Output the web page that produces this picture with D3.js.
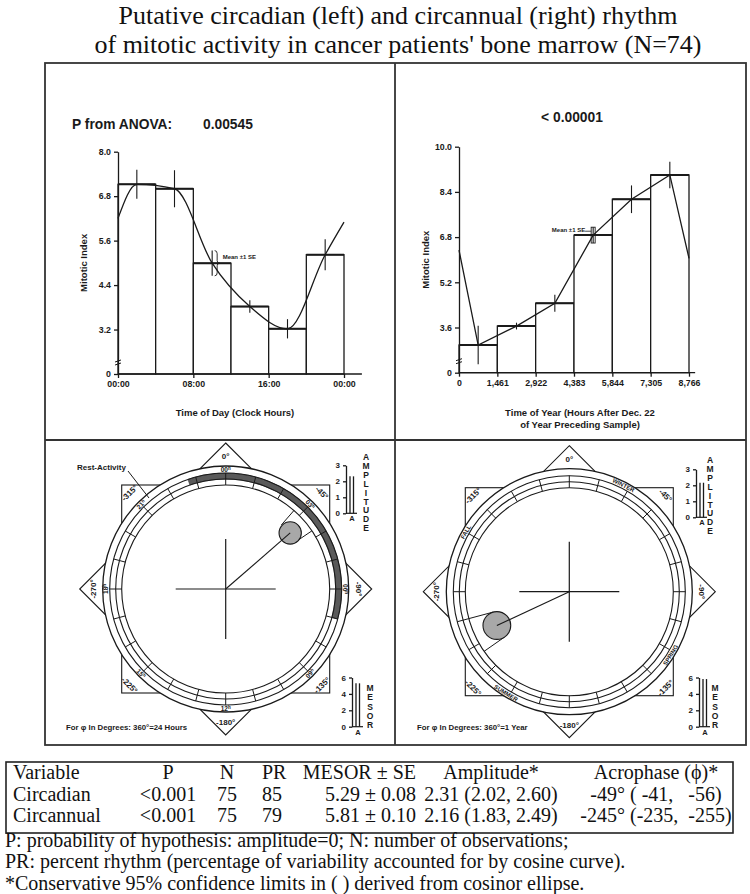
<!DOCTYPE html>
<html><head><meta charset="utf-8">
<script src="https://cdn.jsdelivr.net/npm/d3@7"></script>
<style>
body{margin:0;background:#fff;}
svg{display:block;}
text{white-space:pre;}
</style></head><body>
<svg id="c" width="750" height="894"></svg>
<script>
// ---------------- DATA ----------------
const titleLines = ["Putative circadian (left) and circannual (right) rhythm",
  "of mitotic activity in cancer patients' bone marrow (N=74)"];

// Circadian histogram (top left)
const dayBinStart = [0, 4, 8, 12, 16, 20];
const dayBinEnd   = [4, 8, 12, 16, 20, 24];
const dayMean     = [7.12, 7.00, 4.99, 3.82, 3.22, 5.22];
const daySE       = [0.39, 0.50, 0.34, 0.17, 0.26, 0.42];
const dayPointX   = [2, 6, 10, 14, 18, 22];
const dayCurveX   = [0, 2, 6, 10, 14, 18, 22, 24];
const dayCurveY   = [6.20, 7.12, 7.00, 4.99, 3.82, 3.22, 5.22, 6.10];
const dayXTicks   = [0, 8, 16, 24];
const dayXTickLabels = ["00:00", "08:00", "16:00", "00:00"];
const dayYTicks   = [2, 3.2, 4.4, 5.6, 6.8, 8.0];
const dayYTickLabels = ["0", "3.2", "4.4", "5.6", "6.8", "8.0"];

// Circannual histogram (top right)
const yearBinStart = [0, 1461, 2922, 4383, 5844, 7305];
const yearBinEnd   = [1461, 2922, 4383, 5844, 7305, 8766];
const yearMean     = [2.98, 3.65, 4.46, 6.87, 8.14, 9.00];
const yearSE       = [0.68, 0.12, 0.30, 0.28, 0.49, 0.47];
const yearPointX   = [730.5, 2191.5, 3652.5, 5113.5, 6574.5, 8035.5];
const yearCurveX   = [0, 730.5, 2191.5, 3652.5, 5113.5, 6574.5, 8035.5, 8766];
const yearCurveY   = [6.34, 2.98, 3.65, 4.46, 6.87, 8.14, 9.00, 6.05];
const yearXTicks   = [0, 1461, 2922, 4383, 5844, 7305, 8766];
const yearYTicks   = [2, 3.6, 5.2, 6.8, 8.4, 10.0];
const yearYTickLabels = ["0", "3.6", "5.2", "6.8", "8.4", "10.0"];

// Cosinor table
const tableHeaders = ["Variable", "P", "N", "PR", "MESOR \u00b1 SE", "Amplitude*", "Acrophase (\u03d5)*"];
const rowNames   = ["Circadian", "Circannual"];
const pValues    = ["<0.001", "<0.001"];
const nValues    = [75, 75];
const prValues   = [85, 79];
const mesor      = [5.29, 5.81];
const mesorSE    = [0.08, 0.10];
const amplitude  = [2.31, 2.16];
const ampLow     = [2.02, 1.83];
const ampHigh    = [2.60, 2.49];
const acrophase  = [-49, -245];
const acroLow    = [-41, -235];
const acroHigh   = [-56, -255];
const footnotes  = ["P: probability of hypothesis: amplitude=0; N: number of observations;",
  "PR: percent rhythm (percentage of variability accounted for by cosine curve).",
  "*Conservative 95% confidence limits in ( ) derived from cosinor ellipse."];

// Polar plots
const compassAngles = [0, 45, 90, 135, 180, 225, 270, 315];
const degreeLabels  = ["0\u00b0", "-45\u00b0", "-90\u00b0", "-135\u00b0", "-180\u00b0", "-225\u00b0", "-270\u00b0", "-315\u00b0"];
const hourLabels    = ["00", "03", "06", "09", "12", "15", "18", "21"];
const seasonNames   = ["WINTER", "SPRING", "SUMMER", "FALL"];
const seasonAngles  = [27, 122, 212, 300];
const restActivity  = [-19, 105];
const ampTicks   = [0, 1, 2, 3];
const mesorTicks = [0, 2, 4, 6];

// ---------------- DRAW ----------------
const SANS = "'Liberation Sans', Arial, sans-serif";
const SERIF = "'Liberation Serif', 'Times New Roman', serif";
const INK = "#1a1a1a";
const svg = d3.select("#c");

// Title
svg.append("g").selectAll("text").data(titleLines).join("text")
  .attr("x", 398).attr("y", (d, i) => 24 + i * 28.5)
  .attr("text-anchor", "middle").attr("font-family", SERIF).attr("font-size", 26)
  .attr("fill", "#111").text(d => d);

// Frame
const frame = svg.append("g").attr("fill", "none").attr("stroke", "#333").attr("stroke-width", 1.8);
frame.append("rect").attr("x", 45).attr("y", 63).attr("width", 701).attr("height", 682);
frame.append("line").attr("x1", 395).attr("x2", 395).attr("y1", 63).attr("y2", 745);
frame.append("line").attr("x1", 45).attr("x2", 746).attr("y1", 440).attr("y2", 440);

function styleAxis(sel, size) {
  sel.attr("font-family", SANS).attr("font-weight", "bold").attr("font-size", size);
  sel.selectAll("path,line").attr("stroke", INK).attr("stroke-width", 1.3);
  sel.selectAll("text").attr("fill", INK);
}

function barChart(o) {
  const g = svg.append("g");
  const x = d3.scaleLinear().domain(o.xDomain).range(o.xRange);
  const y = d3.scaleLinear().domain(o.yDomain).range(o.yRange);
  const base = o.yDomain[0];
  g.selectAll("rect.bar").data(o.mean).join("rect").attr("class", "bar")
    .attr("x", (d, i) => x(o.binStart[i])).attr("width", (d, i) => x(o.binEnd[i]) - x(o.binStart[i]))
    .attr("y", d => y(d)).attr("height", d => y(base) - y(d))
    .attr("fill", "#fff").attr("stroke", INK).attr("stroke-width", 1.3);
  g.selectAll("line.top").data(o.mean).join("line").attr("class", "top")
    .attr("x1", (d, i) => x(o.binStart[i])).attr("x2", (d, i) => x(o.binEnd[i]))
    .attr("y1", d => y(d)).attr("y2", d => y(d)).attr("stroke", INK).attr("stroke-width", 2);
  // fitted curve
  g.append("path").datum(o.curveX.map((v, i) => [v, o.curveY[i]]))
    .attr("d", d3.line().x(d => x(d[0])).y(d => y(d[1])).curve(o.curve))
    .attr("fill", "none").attr("stroke", INK).attr("stroke-width", 1.3);
  // error bars
  g.selectAll("line.err").data(o.mean).join("line").attr("class", "err")
    .attr("x1", (d, i) => x(o.pointX[i])).attr("x2", (d, i) => x(o.pointX[i]))
    .attr("y1", (d, i) => y(d + o.se[i])).attr("y2", (d, i) => y(d - o.se[i]))
    .attr("stroke", INK).attr("stroke-width", 1.1);
  // axes
  const ya = d3.axisLeft(y).tickValues(o.yTicks).tickFormat((d, i) => o.yTickLabels[i]).tickSize(4).tickSizeOuter(0).tickPadding(3);
  g.append("g").attr("transform", `translate(${o.xRange[0]},0)`).call(ya).call(s => styleAxis(s, 8.8));
  const xa = d3.axisBottom(x).tickValues(o.xTicks).tickFormat((d, i) => o.xTickLabels ? o.xTickLabels[i] : d3.format(",")(d)).tickSize(4).tickSizeOuter(0).tickPadding(3);
  const xg = g.append("g").attr("transform", `translate(0,${o.yRange[0]})`).call(xa).call(s => styleAxis(s, 8.8));
  xg.select(".domain").attr("d", `M${o.xRange[0]},0H${x(o.xAxisEnd)}`);
  // axis break mark
  g.append("path").attr("d", `M${o.xRange[0] - 3},${o.yRange[0] - 9}l6,-2M${o.xRange[0] - 3},${o.yRange[0] - 12}l6,-2`)
    .attr("stroke", INK).attr("stroke-width", 1);
  // labels
  g.append("text").attr("transform", `translate(${o.yLabelX},${(o.yRange[0] + o.yRange[1]) / 2}) rotate(-90)`)
    .attr("text-anchor", "middle").attr("font-family", SANS).attr("font-weight", "bold").attr("font-size", 9.5)
    .attr("fill", INK).text("Mitotic Index");
  g.selectAll("text.xl").data(o.xLabel).join("text").attr("class", "xl")
    .attr("x", o.xLabelX).attr("y", (d, i) => o.xLabelY + i * 11.5).attr("text-anchor", "middle")
    .attr("font-family", SANS).attr("font-weight", "bold").attr("font-size", 9.5).attr("fill", INK).text(d => d);
  return {g, x, y};
}

// ---- top-left circadian
const L = barChart({
  xDomain: [0, 24], xRange: [118, 344], yDomain: [2, 8], yRange: [374, 151.7],
  binStart: dayBinStart, binEnd: dayBinEnd, mean: dayMean, se: daySE, pointX: dayPointX,
  curveX: dayCurveX, curveY: dayCurveY, curve: d3.curveMonotoneX,
  xTicks: dayXTicks, xTickLabels: dayXTickLabels, yTicks: dayYTicks, yTickLabels: dayYTickLabels,
  xAxisEnd: 25.9, yLabelX: 87, xLabel: ["Time of Day (Clock Hours)"], xLabelX: 235, xLabelY: 416
});
svg.append("text").attr("x", 72).attr("y", 129).attr("font-family", SANS).attr("font-weight", "bold")
  .attr("font-size", 13.8).attr("fill", INK).text("P from ANOVA:");
svg.append("text").attr("x", 203).attr("y", 129).attr("font-family", SANS).attr("font-weight", "bold")
  .attr("font-size", 13.8).attr("fill", INK).text("0.00545");
{
  const bx = L.x(dayPointX[2]) + 2.5, yt = L.y(dayMean[2] + daySE[2]), yb = L.y(dayMean[2] - daySE[2]);
  const m = (yt + yb) / 2;
  L.g.append("path").attr("d", `M${bx},${yt}q2.5,0 2.5,3V${m - 2.5}q0,2.5 2.5,2.5q-2.5,0 -2.5,2.5V${yb - 3}q0,3 -2.5,3`)
    .attr("fill", "none").attr("stroke", INK).attr("stroke-width", 0.9);
  L.g.append("text").attr("x", bx + 8).attr("y", yt + 8).attr("font-family", SANS).attr("font-weight", "bold")
    .attr("font-size", 6).attr("fill", INK).text("Mean \u00b11 SE");
}

// ---- top-right circannual
const R = barChart({
  xDomain: [0, 8766], xRange: [459, 689], yDomain: [2, 10], yRange: [372.7, 146.7],
  binStart: yearBinStart, binEnd: yearBinEnd, mean: yearMean, se: yearSE, pointX: yearPointX,
  curveX: yearCurveX, curveY: yearCurveY, curve: d3.curveLinear,
  xTicks: yearXTicks, xTickLabels: null, yTicks: yearYTicks, yTickLabels: yearYTickLabels,
  xAxisEnd: 9000, yLabelX: 429, xLabel: ["Time of Year (Hours After Dec. 22", "of Year Preceding Sample)"],
  xLabelX: 580, xLabelY: 416
});
svg.append("text").attr("x", 572).attr("y", 122).attr("text-anchor", "middle").attr("font-family", SANS)
  .attr("font-weight", "bold").attr("font-size", 13.8).attr("fill", INK).text("< 0.00001");
{
  const px = R.x(yearPointX[3]), yt = R.y(yearMean[3] + yearSE[3]), yb = R.y(yearMean[3] - yearSE[3]);
  R.g.append("rect").attr("x", px - 2).attr("y", yt).attr("width", 4).attr("height", yb - yt)
    .attr("fill", "none").attr("stroke", INK).attr("stroke-width", 0.9);
  R.g.append("text").attr("x", px - 8).attr("y", yt + 5).attr("text-anchor", "end").attr("font-family", SANS)
    .attr("font-weight", "bold").attr("font-size", 6).attr("fill", INK).text("Mean \u00b11 SE");
  R.g.append("line").attr("x1", px - 8).attr("x2", px - 2).attr("y1", yt + 4).attr("y2", yt + 4)
    .attr("stroke", INK).attr("stroke-width", 0.8);
}

// ---- polar cosinor plots
function readable(a) { const n = ((a % 360) + 360) % 360; return (n > 90 && n < 270) ? n - 180 : (n >= 270 ? n - 360 : n); }

function polar(o) {
  const g = svg.append("g");
  const {cx, cy} = o;
  const R1 = 123, R2 = 116, R3 = 110, R4 = 104;
  const ang = d3.scaleLinear().domain([0, 360]).range([0, 2 * Math.PI]);
  const rAmp = d3.scaleLinear().domain([0, 3]).range([0, 111]);
  const pt = (deg, r) => [cx + r * Math.sin(ang(deg)), cy - r * Math.cos(ang(deg))];
  g.append("polygon").attr("points", [0, 90, 180, 270].map(a => pt(a, 146).join(",")).join(" "))
    .attr("fill", "#fff").attr("stroke", INK).attr("stroke-width", 1.1);
  g.append("rect").attr("x", cx - 104).attr("y", cy - 104).attr("width", 208).attr("height", 208)
    .attr("fill", "#fff").attr("stroke", INK).attr("stroke-width", 1.1);
  g.append("circle").attr("cx", cx).attr("cy", cy).attr("r", R1).attr("fill", "#fff").attr("stroke", INK).attr("stroke-width", 1.3);
  if (o.band) {
    g.append("path").attr("transform", `translate(${cx},${cy})`)
      .attr("d", d3.arc().innerRadius(R3).outerRadius(R2).startAngle(ang(o.band[0])).endAngle(ang(o.band[1]))())
      .attr("fill", "#5a5a5a").attr("stroke", "#333").attr("stroke-width", 0.6);
  }
  [R2, R3, R4].forEach(r => g.append("circle").attr("cx", cx).attr("cy", cy).attr("r", r)
    .attr("fill", "none").attr("stroke", INK).attr("stroke-width", 1.1));
  g.selectAll("line.tk").data(d3.range(0, 360, 15)).join("line").attr("class", "tk")
    .attr("x1", d => pt(d, R2)[0]).attr("y1", d => pt(d, R2)[1])
    .attr("x2", d => pt(d, R4)[0]).attr("y2", d => pt(d, R4)[1])
    .attr("stroke", INK).attr("stroke-width", 1);
  // degree labels
  g.selectAll("text.deg").data(compassAngles).join("text").attr("class", "deg")
    .attr("transform", d => { const p = pt(d, d % 90 === 0 ? 133 : 136); return `translate(${p[0]},${p[1]}) rotate(${readable(d)})`; })
    .attr("text-anchor", "middle").attr("dy", "0.35em").attr("font-family", SANS).attr("font-weight", "bold")
    .attr("font-size", 8).attr("fill", INK).text((d, i) => degreeLabels[i]);
  if (o.hours) {
    const ht = g.selectAll("text.hr").data(compassAngles).join("text").attr("class", "hr")
      .attr("transform", d => { const p = pt(d, 119.5); return `translate(${p[0]},${p[1]}) rotate(${readable(d)})`; })
      .attr("text-anchor", "middle").attr("dy", "0.35em").attr("font-family", SANS).attr("font-weight", "bold")
      .attr("font-size", 6.5).attr("fill", INK);
    ht.append("tspan").text((d, i) => hourLabels[i]);
    ht.append("tspan").attr("font-size", 4.5).attr("dy", -2).text("h");
  }
  if (o.seasons) {
    g.selectAll("text.ss").data(seasonAngles).join("text").attr("class", "ss")
      .attr("transform", d => { const p = pt(d, 119.5); return `translate(${p[0]},${p[1]}) rotate(${readable(d)})`; })
      .attr("text-anchor", "middle").attr("dy", "0.35em").attr("font-family", SANS).attr("font-weight", "bold")
      .attr("font-size", 6).attr("fill", INK).text((d, i) => seasonNames[i]);
  }
  // crosshair
  g.append("line").attr("x1", cx - 50).attr("x2", cx + 50).attr("y1", cy).attr("y2", cy).attr("stroke", INK).attr("stroke-width", 1.2);
  g.append("line").attr("x1", cx).attr("x2", cx).attr("y1", cy - 50).attr("y2", cy + 50).attr("stroke", INK).attr("stroke-width", 1.2);
  // acrophase & confidence
  const phi = -o.acro, ra = rAmp(o.amp);
  const half = Math.abs(o.hi - o.lo) / 2;
  [-o.lo, -o.hi].forEach(a => {
    const p1 = pt(a, ra * Math.cos(ang(half))), p2 = pt(a, R4);
    g.append("line").attr("x1", p1[0]).attr("y1", p1[1]).attr("x2", p2[0]).attr("y2", p2[1]).attr("stroke", INK).attr("stroke-width", 1);
  });
  const pc = pt(phi, ra);
  g.append("circle").attr("cx", pc[0]).attr("cy", pc[1]).attr("r", ra * Math.sin(ang(half)))
    .attr("fill", "#a8a8a8").attr("stroke", INK).attr("stroke-width", 1.1);
  g.append("line").attr("x1", cx).attr("y1", cy).attr("x2", pc[0]).attr("y2", pc[1]).attr("stroke", INK).attr("stroke-width", 1.1);
  // footer
  g.append("text").attr("x", o.footX).attr("y", 730).attr("font-family", SANS).attr("font-weight", "bold")
    .attr("font-size", 7.8).attr("fill", INK).text(o.foot);
  return {g, pt};
}

function scaleBar(o) {
  const g = svg.append("g");
  const y = d3.scaleLinear().domain([0, o.max]).range([o.y0, o.y0 - o.max * o.unit]);
  g.append("g").attr("transform", `translate(${o.x},0)`)
    .call(d3.axisLeft(y).tickValues(o.ticks).tickFormat(d3.format("d")).tickSize(3).tickSizeOuter(0).tickPadding(3))
    .call(s => styleAxis(s, 8));
  g.append("line").attr("x1", o.x).attr("x2", o.x + 11).attr("y1", y(0)).attr("y2", y(0)).attr("stroke", INK).attr("stroke-width", 1.2);
  [4, 7.5].forEach(dx => g.append("line").attr("x1", o.x + dx).attr("x2", o.x + dx).attr("y1", y(0)).attr("y2", y(o.value))
    .attr("stroke", INK).attr("stroke-width", 1.3));
  g.append("text").attr("x", o.x + 6).attr("y", y(0) + 8).attr("text-anchor", "middle").attr("font-family", SANS)
    .attr("font-weight", "bold").attr("font-size", 7.5).attr("fill", INK).text("A");
  g.selectAll("text.lt").data(o.word.split("")).join("text").attr("class", "lt")
    .attr("x", o.lx).attr("y", (d, i) => o.ly + i * o.step).attr("text-anchor", "middle").attr("font-family", SANS)
    .attr("font-weight", "bold").attr("font-size", 8.5).attr("fill", INK).text(d => d);
}

const PL = polar({cx: 225.7, cy: 589, amp: amplitude[0], acro: acrophase[0], lo: acroLow[0], hi: acroHigh[0],
  band: restActivity, hours: true, foot: "For \u03c6 In Degrees: 360\u00b0=24 Hours", footX: 66});
{
  svg.append("text").attr("x", 77).attr("y", 470).attr("font-family", SANS).attr("font-weight", "bold")
    .attr("font-size", 8).attr("fill", INK).text("Rest-Activity");
  svg.append("line").attr("x1", 128).attr("y1", 471).attr("x2", 149).attr("y2", 498).attr("stroke", INK).attr("stroke-width", 1);
}
const PR = polar({cx: 569.3, cy: 591.7, amp: amplitude[1], acro: acrophase[1], lo: acroLow[1], hi: acroHigh[1],
  seasons: true, foot: "For \u03c6 In Degrees: 360\u00b0=1 Year", footX: 417});

scaleBar({x: 346, y0: 513.3, unit: 16, max: 3, ticks: ampTicks, value: amplitude[0], word: "AMPLITUDE", lx: 366, ly: 460, step: 8.9});
scaleBar({x: 352, y0: 726.7, unit: 8.2, max: 6, ticks: mesorTicks, value: mesor[0], word: "MESOR", lx: 370, ly: 691, step: 9.3});
scaleBar({x: 696, y0: 517.3, unit: 16, max: 3, ticks: ampTicks, value: amplitude[1], word: "AMPLITUDE", lx: 710, ly: 463, step: 8.9});
scaleBar({x: 699, y0: 726.7, unit: 8.2, max: 6, ticks: mesorTicks, value: mesor[1], word: "MESOR", lx: 715, ly: 691, step: 9.3});

// ---------------- TABLE ----------------
const tbl = svg.append("g").attr("font-family", SERIF).attr("font-size", 20).attr("fill", "#111");
tbl.append("rect").attr("x", 6).attr("y", 762).attr("width", 727).attr("height", 71)
  .attr("fill", "none").attr("stroke", "#222").attr("stroke-width", 1.6);
const colX = [13, 168, 227, 262, 416, 491, 656];
const colAnchor = ["start", "middle", "middle", "start", "end", "middle", "middle"];
const fmt2 = d3.format(".2f");
const rows = rowNames.map((n, i) => [n, pValues[i], String(nValues[i]), String(prValues[i]),
  `${fmt2(mesor[i])} \u00b1 ${fmt2(mesorSE[i])}`,
  `${fmt2(amplitude[i])} (${fmt2(ampLow[i])}, ${fmt2(ampHigh[i])})`,
  `${acrophase[i]}\u00b0 (${String(acroLow[i]).padStart(4, " ")}, ${String(acroHigh[i]).padStart(5, " ")})`]);
[tableHeaders, ...rows].forEach((r, ri) => {
  tbl.append("g").selectAll("text").data(r).join("text")
    .attr("x", (d, i) => colX[i]).attr("y", 779 + ri * 21.5).attr("text-anchor", (d, i) => colAnchor[i]).text(d => d);
});
tbl.selectAll("text.fn").data(footnotes).join("text").attr("class", "fn")
  .attr("x", 5).attr("y", (d, i) => 847 + i * 21.3).text(d => d);
</script>
</body></html>
